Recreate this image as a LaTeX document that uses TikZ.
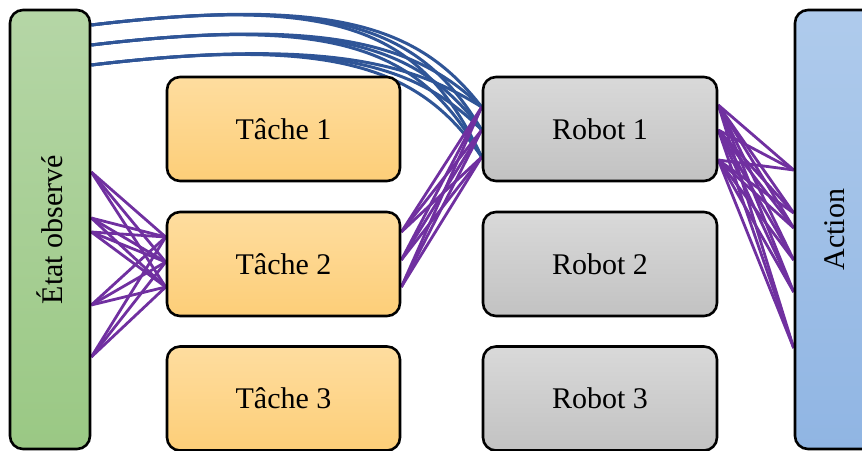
\documentclass[tikz,border=0pt]{standalone}
\usepackage{fontspec}
\setmainfont{Liberation Serif}
\usetikzlibrary{backgrounds,calc}
\definecolor{linkblue}{HTML}{2F5597}
\definecolor{linkpurple}{HTML}{7030A0}
\definecolor{greentop}{HTML}{B5D6A6}
\definecolor{greenbot}{HTML}{9AC884}
\definecolor{bluetop}{HTML}{AFCBEC}
\definecolor{bluebot}{HTML}{90B5E3}
\definecolor{orangetop}{HTML}{FEDD9F}
\definecolor{orangebot}{HTML}{FDCE78}
\definecolor{graytop}{HTML}{D9D9D9}
\definecolor{graybot}{HTML}{C2C2C2}
\tikzset{
  boxbase/.style={draw=black, line width=2.6pt, rounded corners=13pt, inner sep=0pt},
  labelfont/.style={font=\fontsize{30}{35}\selectfont},
  taskbox/.style={boxbase, labelfont, minimum width=233pt, minimum height=104pt,
    top color=orangetop, bottom color=orangebot},
  robotbox/.style={boxbase, labelfont, minimum width=234pt, minimum height=104pt,
    top color=graytop, bottom color=graybot},
  sidebar/.style={boxbase, minimum width=80pt, minimum height=439pt},
  sidetext/.style={labelfont, rotate=90},
  bluelink/.style={draw=linkblue, line width=3pt},
  purplelink/.style={draw=linkpurple, line width=2.8pt},
}
\begin{document}
\begin{tikzpicture}[x=1pt, y=-1pt]
\useasboundingbox (0,0) rectangle (862,450);
\clip (0,0) rectangle (862,450);

% side bars
\node[sidebar, top color=greentop, bottom color=greenbot] (etat) at (50,229.5) {};
\node[sidetext] (etattxt) at (etat.center) {État observé};
\node[sidebar, top color=bluetop, bottom color=bluebot] (action) at (835,229.5) {};
\node[sidetext] (actiontxt) at (action.center) {Action};

% tasks and robots
\node[taskbox] (t1) at (283.5,129) {Tâche 1};
\node[taskbox] (t2) at (283.5,264) {Tâche 2};
\node[taskbox] (t3) at (283.5,398.5) {Tâche 3};
\node[robotbox] (r1) at (600,129) {Robot 1};
\node[robotbox] (r2) at (600,264) {Robot 2};
\node[robotbox] (r3) at (600,398.5) {Robot 3};

% anchor points on the edges
\foreach \i/\y in {1/25, 2/45, 3/65} \coordinate (eb\i) at (etat.east |- 0,\y);
\foreach \i/\y in {1/172, 2/218, 3/232, 4/305, 5/357} \coordinate (ep\i) at (etat.east |- 0,\y);
\foreach \i/\y in {1/237, 2/262, 3/287} \coordinate (t2in\i) at (t2.west |- 0,\y);
\foreach \i/\y in {1/232, 2/260, 3/287} \coordinate (t2out\i) at (t2.east |- 0,\y);
\foreach \i/\y in {1/107, 2/130, 3/157} \coordinate (r1in\i) at (r1.west |- 0,\y);
\foreach \i/\y in {1/105, 2/130, 3/160} \coordinate (r1out\i) at (r1.east |- 0,\y);
\foreach \i/\y in {1/170, 2/213, 3/228, 4/260, 5/292, 6/348} \coordinate (ain\i) at (action.west |- 0,\y);

% connectors, kept under the boxes
\begin{scope}[on background layer]
\foreach \s in {1,2,3}
  \foreach \t in {1,2,3}
    \draw[bluelink] (eb\s) .. controls +(250,-30) and ($(eb\s -| r1in\t)+(-60,5)$) .. (r1in\t);
\foreach \s in {1,...,5}
  \foreach \t in {1,2,3}
    \draw[purplelink] (ep\s) -- (t2in\t);
\foreach \s in {1,2,3}
  \foreach \t in {1,2,3}
    \draw[purplelink] (t2out\s) -- (r1in\t);
\foreach \s in {1,2,3}
  \foreach \t in {1,...,6}
    \draw[purplelink] (r1out\s) -- (ain\t);
\end{scope}
\end{tikzpicture}
\end{document}
